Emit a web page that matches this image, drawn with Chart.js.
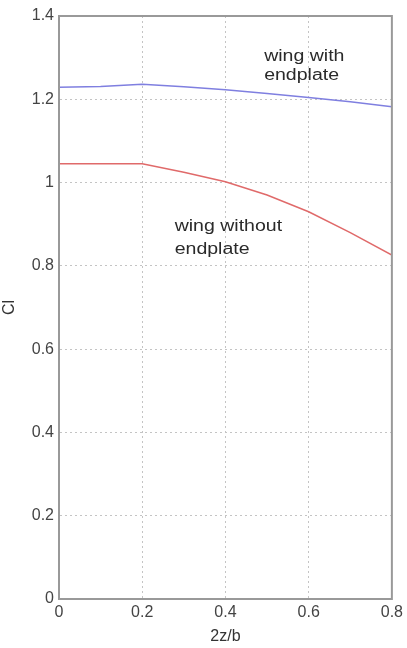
<!DOCTYPE html>
<html>
<head>
<meta charset="utf-8">
<script src="https://cdn.jsdelivr.net/npm/chart.js@4"></script>
<style>
    html, body { margin: 0; padding: 0; background: #ffffff; }
    #wrap { width: 407px; height: 648px; }
</style>
</head>
<body>
<div id="wrap"><canvas id="clChart" width="407" height="648"></canvas></div>
<script>
// spanwise position 2z/b
const spanPos = [0, 0.1, 0.2, 0.3, 0.4, 0.5, 0.6, 0.7, 0.8];
// lift coefficient, wing with endplate
const clWithEndplate = [1.229, 1.231, 1.236, 1.230, 1.223, 1.214, 1.204, 1.194, 1.182];
// lift coefficient, wing without endplate
const clWithoutEndplate = [1.045, 1.045, 1.045, 1.025, 1.002, 0.970, 0.930, 0.880, 0.826];
const xTicks = [0, 0.2, 0.4, 0.6, 0.8];
const yTicks = [0, 0.2, 0.4, 0.6, 0.8, 1, 1.2, 1.4];

// text labels placed in data coordinates: [x, y, line]
const notes = [
    [0.493, 1.302, "wing with"],
    [0.493, 1.258, "endplate"],
    [0.278, 0.894, "wing without"],
    [0.278, 0.838, "endplate"]
];

const font = "'Liberation Sans', Arial, sans-serif";

const notePlugin = {
    id: "notes",
    afterDatasetsDraw(chart) {
        let ctx = chart.ctx;
        let xs = chart.scales.x, ys = chart.scales.y;
        ctx.save();
        ctx.fillStyle = "#2a2a2a";
        ctx.font = "16px " + font;
        ctx.textAlign = "left";
        ctx.textBaseline = "middle";
        notes.forEach(n => {
            let px = xs.getPixelForValue(n[0]), py = ys.getPixelForValue(n[1]);
            // the original lettering is a little wider than the font
            ctx.save();
            ctx.translate(px, py);
            ctx.scale(1.22, 1);
            ctx.fillText(n[2], 0, 0);
            ctx.restore();
        });
        ctx.restore();
    }
};

function toPoints(ys) {
    return spanPos.map((x, i) => ({ x: x, y: ys[i] }));
}

new Chart(document.getElementById("clChart").getContext("2d"), {
    type: "line",
    data: {
        datasets: [{
            label: "wing with endplate",
            data: toPoints(clWithEndplate),
            borderColor: "#7f7fe0",
            borderWidth: 1.5,
            pointRadius: 0,
            tension: 0
        }, {
            label: "wing without endplate",
            data: toPoints(clWithoutEndplate),
            borderColor: "#e06a6a",
            borderWidth: 1.5,
            pointRadius: 0,
            tension: 0
        }]
    },
    options: {
        responsive: false,
        animation: false,
        layout: { padding: { top: 16, right: 14, left: 0, bottom: 0 } },
        plugins: { legend: { display: false }, tooltip: { enabled: false } },
        scales: {
            x: {
                type: "linear",
                min: 0,
                max: 0.8,
                afterBuildTicks: s => { s.ticks = xTicks.map(v => ({ value: v })); },
                afterFit: s => { s.height = 49; },
                ticks: {
                    color: "#444444",
                    font: { family: font, size: 16 },
                    padding: 4,
                    maxRotation: 0,
                    callback: v => String(v)
                },
                grid: { color: "#c4c4c4", tickLength: 0 },
                border: { color: "#999999", width: 2, dash: [2, 3] },
                title: {
                    display: true,
                    text: "2z/b",
                    color: "#333333",
                    font: { family: font, size: 16 },
                    padding: { top: 0, bottom: 2 }
                }
            },
            y: {
                type: "linear",
                min: 0,
                max: 1.4,
                afterBuildTicks: s => { s.ticks = yTicks.map(v => ({ value: v })); },
                afterFit: s => { s.width = 59; },
                ticks: {
                    color: "#444444",
                    font: { family: font, size: 16 },
                    padding: 5,
                    callback: v => String(v)
                },
                grid: { color: "#c4c4c4", tickLength: 0 },
                border: { color: "#999999", width: 2, dash: [2, 3] },
                title: {
                    display: true,
                    text: "Cl",
                    color: "#333333",
                    font: { family: font, size: 16 },
                    padding: 0
                }
            }
        }
    },
    plugins: [notePlugin, {
        id: "frame",
        afterDraw(chart) {
            let a = chart.chartArea, ctx = chart.ctx;
            ctx.save();
            ctx.setLineDash([]);
            ctx.strokeStyle = "#999999";
            ctx.lineWidth = 2;
            ctx.strokeRect(a.left, a.top, a.right - a.left, a.bottom - a.top);
            ctx.restore();
        }
    }]
});
</script>
</body>
</html>
